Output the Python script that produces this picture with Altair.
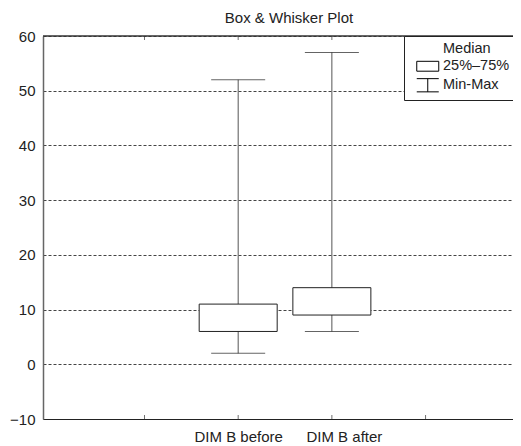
import altair as alt
import pandas as pd

# ---- data ----
categories = ["DIM B before", "DIM B after"]
whisker_low = [2, 6]
box_low = [6, 9]
box_high = [11, 14]
whisker_high = [52, 57]
x_tick_values = [-1, 0, 1, 2]
y_tick_values = [-10, 0, 10, 20, 30, 40, 50, 60]
legend_items = ["Median", "25%–75%", "Min-Max"]
legend_paths = ["M0,0", "M-2,-0.9H2V0.9H-2Z", "M-2,-1.2H2M0,-1.2V1.2M-2,1.2H2"]
title_text = "Box & Whisker Plot"

FONT = "Liberation Sans"
INK = "#222222"

df = pd.DataFrame({
    "pos": list(range(len(categories))),
    "cat": categories,
    "lo": whisker_low,
    "q1": box_low,
    "q3": box_high,
    "hi": whisker_high,
})
ticks_df = pd.DataFrame({"t": x_tick_values})
legend_df = pd.DataFrame({"item": legend_items})

label_expr = " : ".join(
    [f"datum.value == {i} ? '{c}'" for i, c in enumerate(categories)]
) + " : ''"

xscale = alt.Scale(domain=[-2.03, 2.88], nice=False, zero=False)
yscale = alt.Scale(domain=[-10, 60], nice=False, zero=False)

x_axis = alt.Axis(
    title=None, values=x_tick_values, labelExpr=label_expr, grid=False,
    ticks=False, tickSize=0, domainColor=INK, domainWidth=1,
    labelFont=FONT, labelFontSize=15, labelColor=INK, labelPadding=10,
    labelOffset={"condition": {"test": "datum.value == 1", "value": 12}, "value": 0},
)
y_axis = alt.Axis(
    title=None, values=y_tick_values, grid=True, gridDash=[3, 2],
    gridColor="#444444", gridWidth=1, ticks=False, tickSize=0,
    domainColor="#666666", domainWidth=1.5,
    labelFont=FONT, labelFontSize=15, labelColor=INK, labelPadding=8,
)

base = alt.Chart(df)

whiskers = base.mark_rule(color="#555555", strokeWidth=1).encode(
    x=alt.X("pos:Q", scale=xscale, axis=x_axis),
    y=alt.Y("lo:Q", scale=yscale, axis=y_axis),
    y2="hi:Q",
)
cap_lo = base.mark_tick(orient="horizontal", size=54, thickness=1, color=INK).encode(
    x=alt.X("pos:Q", scale=xscale), y=alt.Y("lo:Q", scale=yscale)
)
cap_hi = base.mark_tick(orient="horizontal", size=54, thickness=1, color=INK).encode(
    x=alt.X("pos:Q", scale=xscale), y=alt.Y("hi:Q", scale=yscale)
)
boxes = base.mark_bar(size=78, fill="white", stroke=INK, strokeWidth=1).encode(
    x=alt.X("pos:Q", scale=xscale), y=alt.Y("q1:Q", scale=yscale), y2="q3:Q"
)

top_frame = alt.Chart(df).mark_rule(color="#333333", strokeWidth=1).encode(
    y=alt.datum(60, scale=yscale)
)
bottom_ticks = alt.Chart(ticks_df).mark_tick(
    orient="vertical", size=4, thickness=1, color="#333333", yOffset=-2
).encode(x=alt.X("t:Q", scale=xscale), y=alt.datum(-10, scale=yscale))
top_ticks = alt.Chart(ticks_df).mark_tick(
    orient="vertical", size=4, thickness=1, color="#333333", yOffset=2
).encode(x=alt.X("t:Q", scale=xscale), y=alt.datum(60, scale=yscale))

legend_layer = alt.Chart(legend_df).mark_point(
    color="black", opacity=0, size=121, strokeWidth=1
).encode(
    shape=alt.Shape(
        "item:N",
        sort=None,
        scale=alt.Scale(domain=legend_items, range=legend_paths),
        legend=alt.Legend(
            title=None, orient="none", legendX=361, legendY=0,
            strokeColor=INK, fillColor="white", padding=6,
            symbolOffset=10.5, labelOffset=8, rowPadding=2,
            symbolSize=121, symbolStrokeWidth=1, symbolStrokeColor="black",
            labelFont=FONT, labelFontSize=14.5, labelColor=INK,
        ),
    )
)

chart = alt.layer(
    top_frame, whiskers, cap_lo, cap_hi, boxes, bottom_ticks, top_ticks, legend_layer
).properties(
    width=470,
    height=383,
    title=alt.TitleParams(
        title_text, font=FONT, fontSize=15, fontWeight="normal",
        color=INK, offset=3, dx=11, anchor="middle",
    ),
    autosize=alt.AutoSizeParams(type="none"),
    padding={"left": 35, "top": 28, "right": 0, "bottom": 27},
    background="white",
).configure_view(stroke=None)

chart.save("out.html", embed_options={"renderer": "svg", "actions": False})
